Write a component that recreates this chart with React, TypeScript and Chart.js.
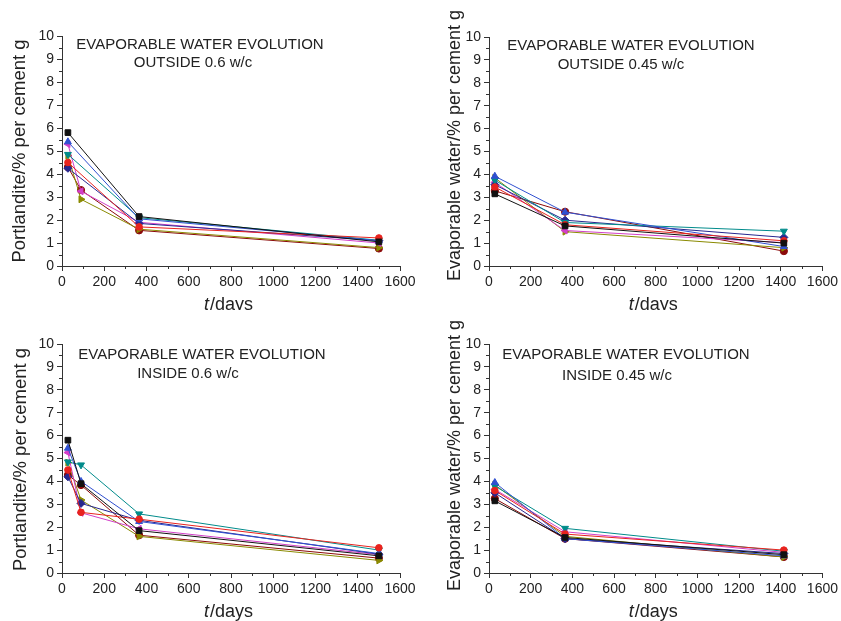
import React, { useEffect, useRef } from "react";
import { Chart, registerables } from "chart.js";
Chart.register(...registerables);

const FONT = '"Liberation Sans", Arial, sans-serif';

// x positions (days)
const daysLong = [28, 90, 365, 1500];
const daysShort = [28, 365, 1415];

// Series styles (order: black, red, blue, teal, navy, magenta, olive, wine)
const seriesNames = ["S1", "S2", "S3", "S4", "S5", "S6", "S7", "S8"];
const seriesColors = ["#111111", "#e8231e", "#3050d0", "#008b8b", "#27278f", "#d23fc8", "#8a8a00", "#8b0a0a"];
const seriesShapes = ["rect", "circle", "triangle", "triangle", "rectRot", "triangle", "triangle", "circle"];
const seriesRotation = [0, 0, 0, 180, 0, -90, 90, 0];
const seriesRadius = [4, 3.3, 4, 4, 4, 4, 4, 3.6];

// Panel 1: OUTSIDE 0.6 w/c (days 28, 90, 365, 1500)
const out06 = [
  [5.8, null, 2.15, 1.05],
  [4.5, null, 1.7, 1.22],
  [5.4, null, 2.05, 1.1],
  [4.85, null, 2.1, 1.12],
  [4.25, null, 1.85, 1.1],
  [5.3, 3.25, 1.9, 1.0],
  [4.8, 2.9, 1.6, 0.8],
  [4.3, 3.3, 1.55, 0.76],
];
// Panel 2: OUTSIDE 0.45 w/c (days 28, 365, 1415)
const out045 = [
  [3.15, 1.75, 1.0],
  [3.45, 1.8, 1.1],
  [3.92, 2.35, 0.85],
  [3.75, 1.9, 1.52],
  [3.55, 2.0, 1.25],
  [3.65, 1.55, 1.02],
  [3.85, 1.5, 0.8],
  [3.28, 2.37, 0.65],
];
// Panel 3: INSIDE 0.6 w/c (days 28, 90, 365, 1500)
const in06 = [
  [5.8, 3.9, 1.85, 0.75],
  [4.5, 2.65, 2.35, 1.1],
  [5.45, 4.0, 2.25, 0.85],
  [4.85, 4.72, 2.58, 1.0],
  [4.2, 3.04, 2.3, 0.82],
  [5.26, 2.63, 1.93, 0.8],
  [4.82, 3.19, 1.6, 0.55],
  [4.28, 3.84, 1.65, 0.65],
];
// Panel 4: INSIDE 0.45 w/c (days 28, 365, 1415)
const in045 = [
  [3.15, 1.55, 0.8],
  [3.6, 1.7, 1.0],
  [3.95, 1.5, 0.75],
  [3.8, 1.95, 0.95],
  [3.5, 1.5, 0.85],
  [3.65, 1.8, 0.9],
  [3.85, 1.6, 0.7],
  [3.25, 1.5, 0.7],
];

const yTitleA = "Portlandite/% per cement g";
const yTitleB = "Evaporable water/% per cement g";
const headline = "EVAPORABLE WATER EVOLUTION";

const panels = [
  { left: 0, top: 0, w: 420, h: 310, yW: 62, padTop: 36, padRight: 20, xH: 44, days: daysLong, values: out06, yTitle: yTitleA, ySize: 18.5, yShift: 0, sub: "OUTSIDE 0.6 w/c", yTitleX: 20, l1: [200, 45], l2: [193, 63] },
  { left: 420, top: 0, w: 421, h: 310, yW: 69, padTop: 37, padRight: 16, xH: 44, days: daysShort, values: out045, yTitle: yTitleB, ySize: 18, yShift: -6, sub: "OUTSIDE 0.45 w/c", yTitleX: 35, l1: [211, 46], l2: [201, 65] },
  { left: 0, top: 310, w: 420, h: 311, yW: 62, padTop: 34, padRight: 20, xH: 48, days: daysLong, values: in06, yTitle: yTitleA, ySize: 18.5, yShift: 1, sub: "INSIDE 0.6 w/c", yTitleX: 21, l1: [202, 45], l2: [188, 64] },
  { left: 420, top: 310, w: 421, h: 311, yW: 69, padTop: 34, padRight: 16, xH: 48, days: daysShort, values: in045, yTitle: yTitleB, ySize: 18, yShift: -3, sub: "INSIDE 0.45 w/c", yTitleX: 35, l1: [206, 45], l2: [197, 66] },
];

function Panel({ p }: { p: any }) {
  const ref = useRef<HTMLCanvasElement | null>(null);
  useEffect(() => {
    if (!ref.current) return;
    const datasets = p.values.map((vals: (number | null)[], i: number) => ({
      label: seriesNames[i],
      data: vals
        .map((v, k) => (v === null ? null : { x: p.days[k], y: v }))
        .filter((d) => d !== null),
      borderColor: seriesColors[i],
      backgroundColor: seriesColors[i],
      borderWidth: 1,
      pointStyle: seriesShapes[i],
      rotation: seriesRotation[i],
      pointRadius: seriesRadius[i],
      pointBorderWidth: 1,
      showLine: true,
      tension: 0,
    }));

    const decor = {
      id: "decor",
      afterDraw(chart: any) {
        const ctx = chart.ctx;
        const xs = chart.scales.x;
        const ys = chart.scales.y;
        const area = chart.chartArea;
        ctx.save();
        ctx.strokeStyle = "#333";
        ctx.lineWidth = 1;
        // minor ticks
        for (let v = 100; v < 1600; v += 200) {
          const px = Math.round(xs.getPixelForValue(v)) + 0.5;
          ctx.beginPath();
          ctx.moveTo(px, area.bottom);
          ctx.lineTo(px, area.bottom + 3);
          ctx.stroke();
        }
        for (let v = 0.5; v < 10; v += 1) {
          const py = Math.round(ys.getPixelForValue(v)) + 0.5;
          ctx.beginPath();
          ctx.moveTo(area.left - 3, py);
          ctx.lineTo(area.left, py);
          ctx.stroke();
        }
        // annotation
        ctx.fillStyle = "#222";
        ctx.textAlign = "center";
        ctx.textBaseline = "middle";
        ctx.font = `15px ${FONT}`;
        ctx.fillText(headline, p.l1[0], p.l1[1]);
        ctx.fillText(p.sub, p.l2[0], p.l2[1]);
        // y title
        ctx.save();
        ctx.font = `${p.ySize}px ${FONT}`;
        ctx.translate(p.yTitleX, (area.top + area.bottom) / 2 + p.yShift);
        ctx.rotate(-Math.PI / 2);
        ctx.fillText(p.yTitle, 0, 0);
        ctx.restore();
        // x title with italic t
        ctx.font = `italic 18px ${FONT}`;
        const wT = ctx.measureText("t").width;
        ctx.font = `18px ${FONT}`;
        const wR = ctx.measureText("/days").width;
        const cx = (area.left + area.right) / 2 - 3;
        const start = cx - (wT + wR) / 2;
        const ty = area.bottom + 39;
        ctx.textAlign = "left";
        ctx.font = `italic 18px ${FONT}`;
        ctx.fillText("t", start, ty);
        ctx.font = `18px ${FONT}`;
        ctx.fillText("/days", start + wT + 1, ty);
        ctx.restore();
      },
    };

    const chart = new Chart(ref.current, {
      type: "scatter",
      data: { datasets },
      options: {
        animation: false,
        responsive: false,
        devicePixelRatio: 1,
        layout: { padding: { top: p.padTop, right: p.padRight, left: 0, bottom: 0 } },
        plugins: { legend: { display: false }, tooltip: { enabled: false } },
        scales: {
          x: {
            type: "linear",
            min: 0,
            max: 1600,
            afterFit: (s: any) => { s.height = p.xH; },
            ticks: { stepSize: 200, color: "#222", font: { family: FONT, size: 14 }, padding: 3, maxRotation: 0, callback: (v: any) => String(v) },
            grid: { drawOnChartArea: false, drawTicks: true, tickLength: 5, color: "#333", tickColor: "#333" },
            border: { display: true, color: "#333", width: 1 },
          },
          y: {
            type: "linear",
            min: 0,
            max: 10,
            afterFit: (s: any) => { s.width = p.yW; },
            ticks: { stepSize: 1, color: "#222", font: { family: FONT, size: 14 }, padding: 3, callback: (v: any) => String(v) },
            grid: { drawOnChartArea: false, drawTicks: true, tickLength: 5, color: "#333", tickColor: "#333" },
            border: { display: true, color: "#333", width: 1 },
          },
        },
      },
      plugins: [decor],
    } as any);
    return () => chart.destroy();
  }, []);
  return (
    <div style={{ position: "absolute", left: p.left, top: p.top, width: p.w, height: p.h }}>
      <canvas ref={ref} width={p.w} height={p.h} style={{ width: p.w, height: p.h, display: "block" }} />
    </div>
  );
}

export default function App() {
  return (
    <div style={{ position: "fixed", left: 0, top: 0, width: 841, height: 621, background: "#fff", overflow: "hidden" }}>
      {panels.map((p, i) => (
        <Panel key={i} p={p} />
      ))}
    </div>
  );
}
